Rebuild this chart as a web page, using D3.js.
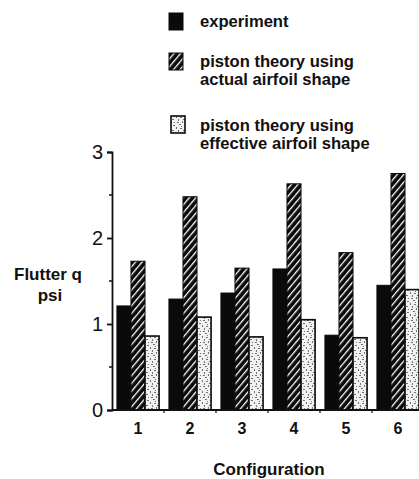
<!DOCTYPE html>
<html>
<head>
<meta charset="utf-8">
<script src="https://cdn.jsdelivr.net/npm/d3@7"></script>
<style>
  body { margin: 0; background: #fff; }
  svg { display: block; font-family: "Liberation Sans", Arial, sans-serif; }
  .legend-label { font-size: 16.6px; font-weight: bold; fill: #111; }
  .axis-title { font-size: 17px; font-weight: bold; fill: #111; }
  .y-axis text { font-size: 20px; font-weight: normal; fill: #111; }
  .x-axis text { font-size: 16px; font-weight: bold; fill: #111; }
</style>
</head>
<body>
<div id="chart"></div>
<script>
// Chart data
var configurations = ["1", "2", "3", "4", "5", "6"];
var seriesNames = ["experiment", "actual", "effective"];
var experiment = [1.21, 1.29, 1.36, 1.64, 0.87, 1.45];
var actualShape = [1.73, 2.48, 1.65, 2.63, 1.83, 2.75];
var effectiveShape = [0.86, 1.08, 0.85, 1.05, 0.84, 1.40];
var yTicks = [0, 1, 2, 3];
var yMinorTicks = [0.5, 1.5, 2.5];
var legendLines = [
  ["experiment"],
  ["piston theory using", "actual airfoil shape"],
  ["piston theory using", "effective airfoil shape"]
];

var width = 419, height = 479;

var svg = d3.select("#chart")
  .append("svg")
    .attr("width", width)
    .attr("height", height);

/* Fill patterns for the three bar kinds
*/
var defs = svg.append("defs");

// black with white "/" hatching
var hatch = defs.append("pattern")
  .attr("id", "hatch")
  .attr("patternUnits", "userSpaceOnUse")
  .attr("width", 5)
  .attr("height", 5)
  .attr("patternTransform", "rotate(40)");
hatch.append("rect")
  .attr("width", 5)
  .attr("height", 5)
  .attr("fill", "#0a0a0a");
hatch.append("rect")
  .attr("x", 2).attr("y", 0)
  .attr("width", 1.3).attr("height", 5)
  .attr("fill", "#fff");

// light speckled fill
var stipple = defs.append("pattern")
  .attr("id", "stipple")
  .attr("patternUnits", "userSpaceOnUse")
  .attr("width", 11)
  .attr("height", 11);
stipple.append("rect")
  .attr("width", 11)
  .attr("height", 11)
  .attr("fill", "#f2f2f2");
var specks = [[1, 1, 2, 1], [6, 0, 1, 2], [3, 3, 2, 1], [8, 4, 2, 1], [0, 6, 1, 2],
              [4, 7, 2, 1], [2, 9, 1, 2], [7, 9, 2, 1], [9, 1, 1, 1], [5, 5, 1, 1]];
stipple.selectAll("rect.speck")
  .data(specks)
  .enter()
    .append("rect")
      .attr("class", "speck")
      .attr("x", function(d) { return d[0]; })
      .attr("y", function(d) { return d[1]; })
      .attr("width", function(d) { return d[2]; })
      .attr("height", function(d) { return d[3]; })
      .attr("fill", "#6e6e6e");

var fills = { experiment: "#0a0a0a", actual: "url(#hatch)", effective: "url(#stipple)" };

/* Scales
*/
var x = d3.scaleBand()
  .domain(configurations)
  .range([112, 424])
  .paddingInner(0.19)
  .paddingOuter(0.095);

var xSub = d3.scaleBand()
  .domain(seriesNames)
  .range([0, x.bandwidth()]);

var y = d3.scaleLinear()
  .domain([0, 3])
  .range([410, 152]);

/* Bars
*/
var rows = configurations.map(function(c, i) {
  return { config: c, experiment: experiment[i], actual: actualShape[i], effective: effectiveShape[i] };
});

var groups = svg.append("g")
  .attr("class", "bars")
  .selectAll("g")
  .data(rows)
  .enter()
    .append("g")
      .attr("transform", function(d) { return "translate(" + x(d.config) + ",0)"; });

groups.selectAll("rect")
  .data(function(d) { return seriesNames.map(function(s) { return { key: s, value: d[s] }; }); })
  .enter()
    .append("rect")
      .attr("x", function(d) { return xSub(d.key); })
      .attr("y", function(d) { return y(d.value); })
      .attr("width", xSub.bandwidth())
      .attr("height", function(d) { return y(0) - y(d.value); })
      .attr("fill", function(d) { return fills[d.key]; })
      .attr("stroke", "#0a0a0a")
      .attr("stroke-width", function(d) { return d.key == "effective" ? 1.6 : 1; });

/* Axes
*/
var yAxis = svg.append("g")
  .attr("class", "y-axis")
  .attr("transform", "translate(112,0)")
  .call(d3.axisLeft(y).tickValues(yTicks).tickFormat(d3.format("d")).tickSize(5).tickPadding(4));

svg.append("g")
  .attr("class", "y-minor")
  .selectAll("line")
  .data(yMinorTicks)
  .enter()
    .append("line")
      .attr("x1", 109).attr("x2", 112)
      .attr("y1", function(d) { return y(d); })
      .attr("y2", function(d) { return y(d); })
      .attr("stroke", "#111")
      .attr("stroke-width", 1.5);

var xAxis = svg.append("g")
  .attr("class", "x-axis")
  .attr("transform", "translate(0,410)")
  .call(d3.axisBottom(x).tickSize(0).tickPadding(13));

// small ticks between the groups
svg.append("g")
  .selectAll("line")
  .data(configurations.slice(1))
  .enter()
    .append("line")
      .attr("x1", function(d) { return x(d) - x.step() * x.paddingInner() / 2; })
      .attr("x2", function(d) { return x(d) - x.step() * x.paddingInner() / 2; })
      .attr("y1", 410).attr("y2", 413)
      .attr("stroke", "#111")
      .attr("stroke-width", 1.2);

svg.selectAll(".y-axis path, .x-axis path, .y-axis line")
  .attr("stroke", "#111")
  .attr("stroke-width", 1.8);
xAxis.select("path").attr("d", "M112,0H419");

/* Axis titles
*/
svg.append("text")
  .attr("class", "axis-title")
  .attr("x", 48).attr("y", 280)
  .attr("text-anchor", "middle")
  .text("Flutter q");
svg.append("text")
  .attr("class", "axis-title")
  .attr("x", 50).attr("y", 301)
  .attr("text-anchor", "middle")
  .text("psi");
svg.append("text")
  .attr("class", "axis-title")
  .attr("x", 269).attr("y", 475)
  .attr("text-anchor", "middle")
  .text("Configuration");

/* Legend
*/
var legendTop = [13, 53, 116];
var legendBaseline = [27, 67, 131];
var legend = svg.append("g").attr("class", "legend");

legend.selectAll("rect")
  .data(seriesNames)
  .enter()
    .append("rect")
      .attr("x", function(d, i) { return i == 2 ? 171 : 169; })
      .attr("y", function(d, i) { return legendTop[i]; })
      .attr("width", 14)
      .attr("height", 17)
      .attr("fill", function(d) { return fills[d]; })
      .attr("stroke", "#0a0a0a")
      .attr("stroke-width", function(d) { return d == "effective" ? 1.6 : 1; });

legendLines.forEach(function(lines, i) {
  lines.forEach(function(line, j) {
    legend.append("text")
      .attr("class", "legend-label")
      .attr("x", 200)
      .attr("y", legendBaseline[i] + j * 17.5)
      .text(line);
  });
});
</script>
</body>
</html>
